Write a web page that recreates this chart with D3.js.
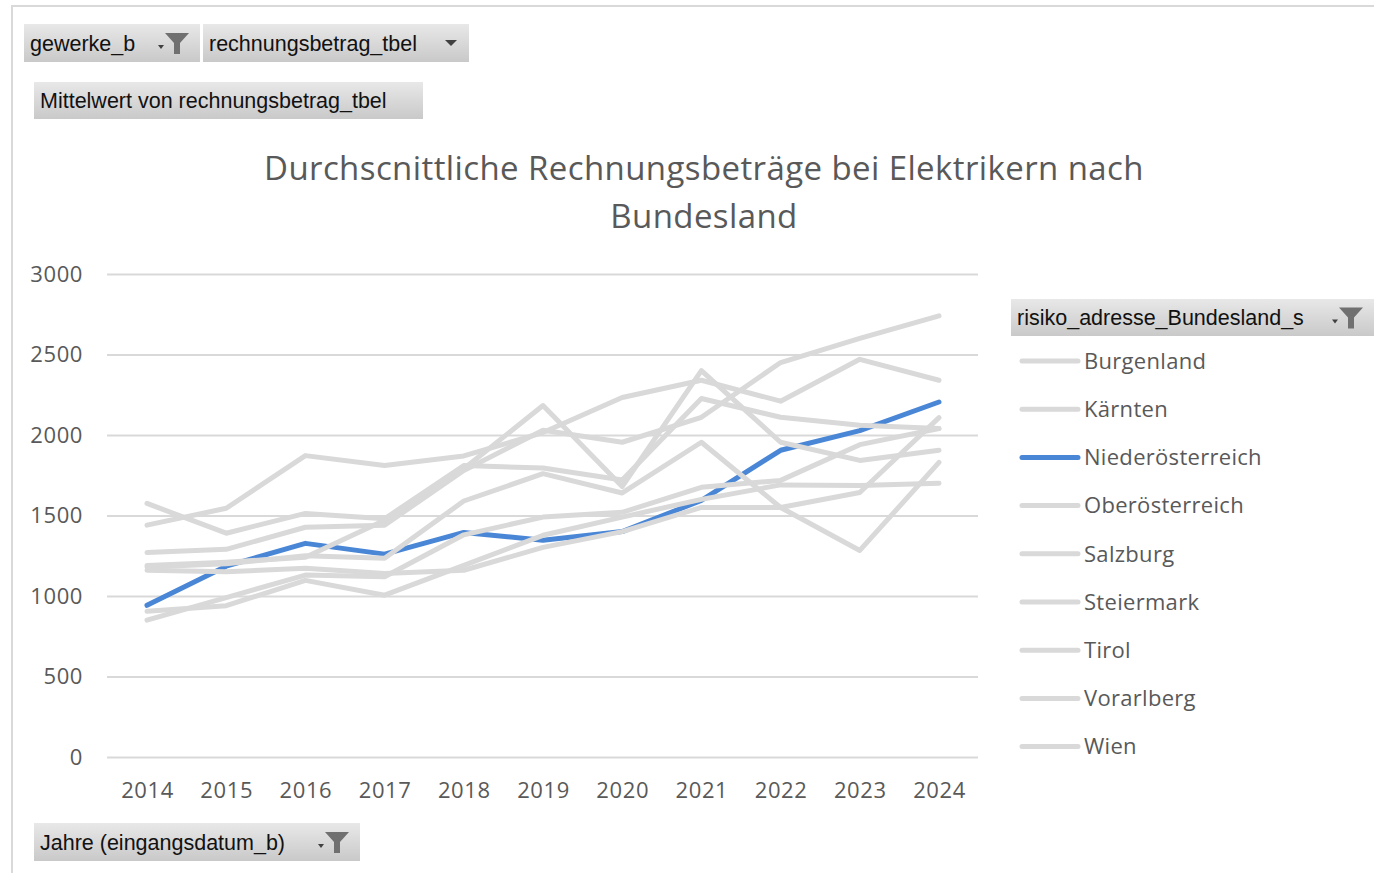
<!DOCTYPE html>
<html>
<head>
<meta charset="utf-8">
<script src="https://cdn.jsdelivr.net/npm/d3@7"></script>
<style>
  body { margin: 0; background: #fff; }
  svg { display: block; }
  .btn text { font-family: "Liberation Sans", Arial, sans-serif; font-size: 21.5px; fill: #111; }
  .axis text { font-family: "Open Sans", "Noto Sans", sans-serif; font-size: 22px; letter-spacing: 0.6px; fill: #595959; }
  .axis line { stroke: #d9d9d9; stroke-width: 2px; }
  .legend text { font-family: "Open Sans", "Noto Sans", sans-serif; font-size: 22px; letter-spacing: 0.3px; fill: #595959; }
</style>
</head>
<body>
<svg id="chart" width="1374" height="873"></svg>
<script>

/////// Data ///////

var years = ["2014","2015","2016","2017","2018","2019","2020","2021","2022","2023","2024"];
var yTicks = [0, 500, 1000, 1500, 2000, 2500, 3000];

var bundeslaender = ["Burgenland","Kärnten","Niederösterreich","Oberösterreich","Salzburg","Steiermark","Tirol","Vorarlberg","Wien"];

var burgenland       = [1440, 1545, 1872, 1810, 1870, 2015, 2233, 2340, 2210, 2470, 2340];
var kaernten         = [1270, 1290, 1427, 1440, 1780, 2030, 1955, 2110, 2450, 2600, 2740];
var niederoesterreich= [ 942, 1185, 1327, 1260, 1395, 1346, 1400, 1594, 1905, 2027, 2205];
var oberoesterreich  = [1575, 1390, 1513, 1480, 1810, 1795, 1720, 2227, 2110, 2060, 2040];
var salzburg         = [1190, 1210, 1240, 1470, 1790, 2183, 1680, 2400, 1955, 1842, 1905];
var steiermark       = [1180, 1200, 1250, 1235, 1590, 1760, 1640, 1955, 1550, 1283, 1830];
var tirol            = [ 850,  990, 1130, 1120, 1380, 1490, 1520, 1675, 1718, 1940, 2040];
var vorarlberg       = [ 905,  940, 1097, 1005, 1190, 1377, 1490, 1600, 1690, 1687, 1700];
var wien             = [1160, 1150, 1172, 1140, 1160, 1302, 1400, 1550, 1550, 1643, 2108];

var seriesValues = [burgenland, kaernten, niederoesterreich, oberoesterreich, salzburg, steiermark, tirol, vorarlberg, wien];
var highlighted = "Niederösterreich";


/////// Setup ///////

var svg = d3.select("#chart");
var grey = "#d9d9d9", blue = "#4a86d6";

var x = d3.scalePoint().domain(years).range([147, 939]);
var y = d3.scaleLinear().domain([0, 3000]).range([757, 274]);

var defs = svg.append("defs");
var grad = defs.append("linearGradient").attr("id", "btnGrad")
    .attr("x1", 0).attr("y1", 0).attr("x2", 0).attr("y2", 1);
grad.append("stop").attr("offset", "0%").attr("stop-color", "#e8e8e8");
grad.append("stop").attr("offset", "100%").attr("stop-color", "#c9c9c9");

// outer chart frame
svg.append("rect")
    .attr("x", 12).attr("y", 6).attr("width", 1380).attr("height", 900)
    .attr("fill", "none").attr("stroke", "#d9d9d9").attr("stroke-width", 2);


/////// Pivot buttons ///////

function funnel(g, cx, cy) {
    g.append("path")
        .attr("d", "M" + (cx-12) + "," + (cy-10) + " L" + (cx+12) + "," + (cy-10) +
              " L" + (cx+3) + "," + (cy) + " L" + (cx+3) + "," + (cy+11) +
              " L" + (cx-3) + "," + (cy+11) + " L" + (cx-3) + "," + cy + " Z")
        .attr("fill", "#707070");
    g.append("path")
        .attr("d", "M" + (cx-19) + "," + (cy+2) + " l6,0 l-3,4 z")
        .attr("fill", "#404040");
}

function dropArrow(g, cx, cy) {
    g.append("path")
        .attr("d", "M" + (cx-6) + "," + (cy-3) + " l12,0 l-6,6 z")
        .attr("fill", "#404040");
}

function button(x0, y0, w, h, label, icon) {
    var g = svg.append("g").attr("class", "btn");
    g.append("rect").attr("x", x0).attr("y", y0).attr("width", w).attr("height", h)
        .attr("fill", "url(#btnGrad)");
    g.append("text").attr("x", x0 + 6).attr("y", y0 + h/2).attr("dy", "0.35em").text(label);
    if (icon == "filter") funnel(g, x0 + w - 23, y0 + h/2);
    if (icon == "arrow") dropArrow(g, x0 + w - 18, y0 + h/2);
    return g;
}

button(24, 24, 176, 38, "gewerke_b", "filter");
button(203, 24, 266, 38, "rechnungsbetrag_tbel", "arrow");
button(34, 82, 389, 37, "Mittelwert von rechnungsbetrag_tbel", null);
button(1011, 299, 363, 37, "risiko_adresse_Bundesland_s", "filter");
button(34, 823, 326, 38, "Jahre (eingangsdatum_b)", "filter");


/////// Title ///////

var titleLines = ["Durchscnittliche Rechnungsbeträge bei Elektrikern nach", "Bundesland"];
titleLines.forEach(function(t, i) {
    svg.append("text")
        .attr("x", 704).attr("y", 168 + i * 48).attr("dy", "0.35em")
        .attr("text-anchor", "middle")
        .style("font-family", "'Open Sans', 'Noto Sans', sans-serif")
        .style("font-size", "33px").style("letter-spacing", "0.4px").style("fill", "#595959")
        .text(t);
});


/////// Axes ///////

var yAxis = svg.append("g")
    .attr("class", "axis")
    .attr("transform", "translate(107,0)")
    .call(d3.axisLeft(y).tickValues(yTicks).tickFormat(d3.format("d")).tickSize(-871).tickPadding(24));
yAxis.select(".domain").remove();

var xAxis = svg.append("g")
    .attr("class", "axis")
    .attr("transform", "translate(0,757)")
    .call(d3.axisBottom(x).tickSize(0).tickPadding(25));
xAxis.select(".domain").remove();


/////// Lines ///////

var line = d3.line()
    .x(function(d, i) { return x(years[i]); })
    .y(function(d) { return y(d); });

bundeslaender.forEach(function(name, i) {
    svg.append("path")
        .datum(seriesValues[i])
        .attr("fill", "none")
        .attr("stroke", name == highlighted ? blue : grey)
        .attr("stroke-width", 5)
        .attr("stroke-linejoin", "round")
        .attr("stroke-linecap", "round")
        .attr("d", line);
});


/////// Legend ///////

var legend = svg.append("g").attr("class", "legend");
bundeslaender.forEach(function(name, i) {
    var ly = 361 + i * 48.2;
    legend.append("line")
        .attr("x1", 1022).attr("x2", 1078).attr("y1", ly).attr("y2", ly)
        .attr("stroke", name == highlighted ? blue : grey)
        .attr("stroke-width", 5).attr("stroke-linecap", "round");
    legend.append("text")
        .attr("x", 1084).attr("y", ly).attr("dy", "0.35em")
        .text(name);
});

</script>
</body>
</html>
